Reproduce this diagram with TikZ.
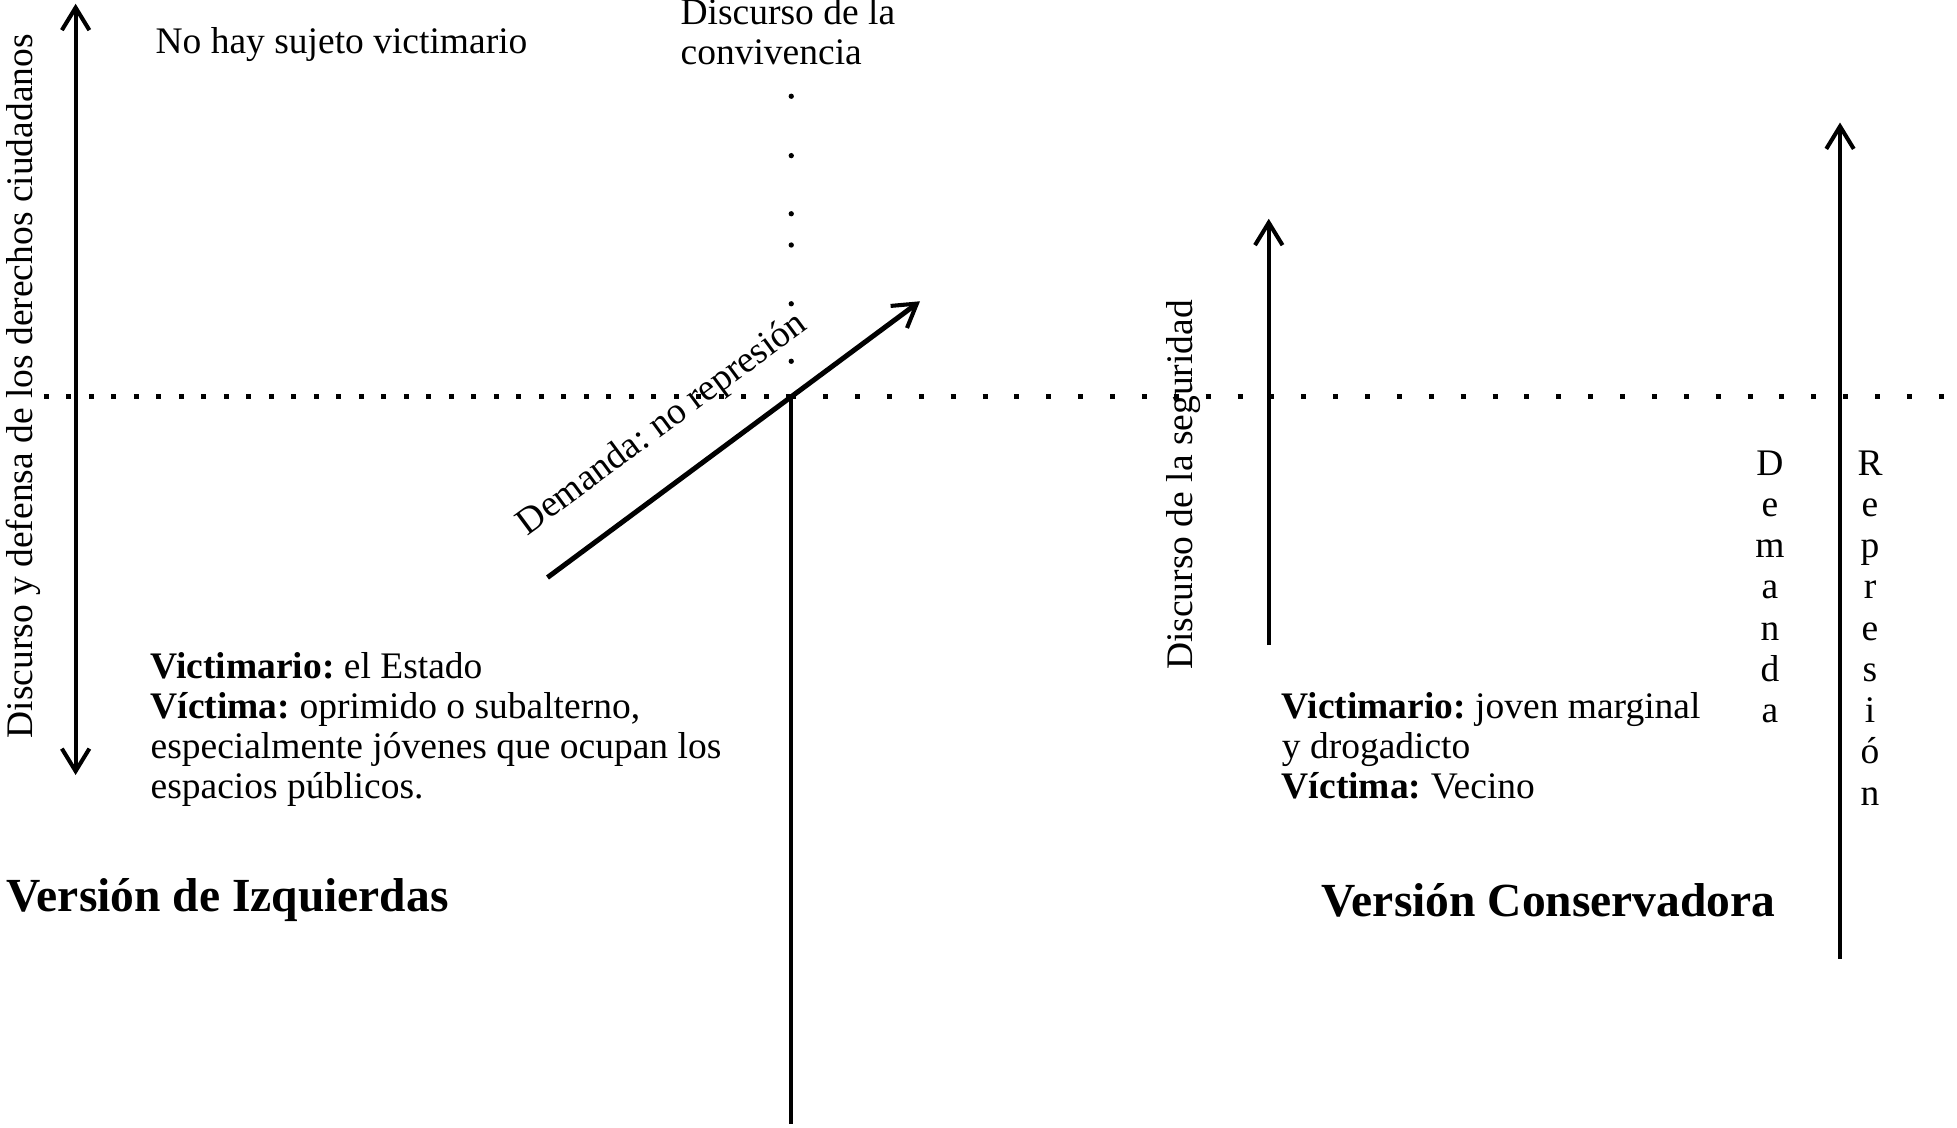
\documentclass[tikz,border=0pt]{standalone}
\usepackage{fontspec}
\setmainfont{Liberation Serif}
\usetikzlibrary{arrows.meta}
\frenchspacing
\begin{document}
\begin{tikzpicture}[x=0.4pt,y=-0.4pt,
  txt/.style={font=\fontsize{12}{12.8}\selectfont, inner sep=0pt},
  ttl/.style={font=\fontsize{15.2}{18}\selectfont\bfseries, inner sep=0pt},
  axisline/.style={line width=1.3pt, line cap=butt},
  barb/.style={-{Straight Barb[length=7.2pt,width=8.8pt,line width=1.3pt]}},
  dblbarb/.style={{Straight Barb[length=7.2pt,width=8.8pt,line width=1.3pt]}-{Straight Barb[length=7.2pt,width=8.8pt,line width=1.3pt]}},
  densedots/.style={line width=1.6pt, dash pattern=on 1.6pt off 5.6pt},
  sparsedots/.style={line width=1.6pt, dash pattern=on 1.6pt off 8.6pt},
]
\useasboundingbox (0,0) rectangle (1565.6,901.6);

% coordinates
\coordinate (lTop) at (60.5,3);
\coordinate (lBot) at (60.5,620);
\coordinate (hL) at (35,317);
\coordinate (cross) at (633,317);
\coordinate (hR) at (1563,317);
\coordinate (cBot) at (633,899);
\coordinate (dStart) at (438,462);
\coordinate (dEnd) at (736,241);
\coordinate (sBot) at (1015,516);
\coordinate (sTop) at (1015,175);
\coordinate (rBot) at (1472,767);
\coordinate (rTop) at (1472,98);

% dotted axes
\draw[densedots] (hL) -- (cross);
\draw[sparsedots] (cross) -- (hR);
\foreach \yy [count=\k] in {77,124.5,171,196,243,289}
  \fill (633,\yy) circle[radius=0.85pt] coordinate (vd\k);

% solid lines and arrows
\draw[axisline, dblbarb] (lBot) -- (lTop);
\draw[axisline] (cross) -- (cBot);
\draw[line width=1.6pt, -{Straight Barb[length=7.2pt,width=8.8pt,line width=1.3pt]}] (dStart) -- (dEnd);
\draw[axisline, barb] (sBot) -- (sTop);
\draw[axisline, barb] (rBot) -- (rTop);

% rotated labels
\node[txt, rotate=90, anchor=base] (lbl1) at (26,309) {Discurso y defensa de los derechos ciudadanos};
\node[txt, rotate=90, anchor=base] (lbl2) at (954,388) {Discurso de la seguridad};
\node[txt, rotate=36.5, anchor=base] (lbl3) at (534.7,345.6) {Demanda: no represión};

% top texts
\node[txt, anchor=base west] (nohay) at (124,43) {No hay sujeto victimario};
\node[txt, anchor=base west] (conv1) at (544,19.5) {Discurso de la};
\node[txt, anchor=base west] (conv2) at (544,51.5) {convivencia};

% left block
\node[txt, anchor=base west] (l1) at (120,543) {\textbf{Victimario:} el Estado};
\node[txt, anchor=base west] (l2) at (120,575) {\textbf{Víctima:} oprimido o subalterno,};
\node[txt, anchor=base west] (l3) at (120,607) {especialmente jóvenes que ocupan los};
\node[txt, anchor=base west] (l4) at (120,639) {espacios públicos.};
\node[ttl, anchor=base west] (izq) at (5,729) {Versión de Izquierdas};

% right block
\node[txt, anchor=base west] (r1) at (1025,575) {\textbf{Victimario:} joven marginal};
\node[txt, anchor=base west] (r2) at (1025,607) {y drogadicto};
\node[txt, anchor=base west] (r3) at (1025,639) {\textbf{Víctima:} Vecino};
\node[ttl, anchor=base west] (cons) at (1057,733) {Versión Conservadora};

% vertical letter stacks
\foreach \c [count=\i from 0] in {D,e,m,a,n,d,a}
  \node[txt, anchor=base] (dem\i) at (1416,380+33*\i) {\c};
\foreach \c [count=\i from 0] in {R,e,p,r,e,s,i,ó,n}
  \node[txt, anchor=base] (rep\i) at (1496,380+33*\i) {\c};
\end{tikzpicture}
\end{document}
